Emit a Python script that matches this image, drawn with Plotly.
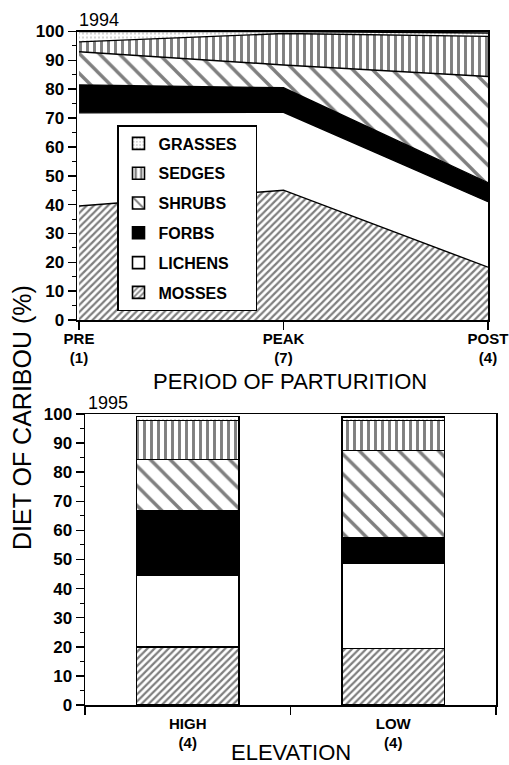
import plotly.graph_objects as go

# ---- data ----
periods = [0, 1, 2]
period_labels = ["PRE<br>(1)", "PEAK<br>(7)", "POST<br>(4)"]
elevations = ["HIGH<br>(4)", "LOW<br>(4)"]

food_names = ["MOSSES", "LICHENS", "FORBS", "SHRUBS", "SEDGES", "GRASSES"]

# 1994 diet (%) by period: PRE, PEAK, POST
mosses_1994 = [39.5, 45.0, 18.3]
lichens_1994 = [32.3, 27.0, 22.7]
forbs_1994 = [9.7, 8.5, 6.6]
shrubs_1994 = [11.5, 7.9, 36.8]
sedges_1994 = [3.4, 10.9, 13.9]
grasses_1994 = [3.6, 0.7, 1.2]

# 1995 diet (%) by elevation: HIGH, LOW
mosses_1995 = [20.0, 19.4]
lichens_1995 = [24.7, 29.3]
forbs_1995 = [22.0, 8.6]
shrubs_1995 = [17.6, 30.2]
sedges_1995 = [13.4, 10.2]
grasses_1995 = [1.5, 1.3]

y_ticks = [0, 10, 20, 30, 40, 50, 60, 70, 80, 90, 100]

series_1994 = [mosses_1994, lichens_1994, forbs_1994, shrubs_1994, sedges_1994, grasses_1994]
series_1995 = [mosses_1995, lichens_1995, forbs_1995, shrubs_1995, sedges_1995, grasses_1995]

# ---- styles ----
FONT = "Liberation Sans, Arial, Helvetica, sans-serif"
styles = {
    "MOSSES": dict(shape="/", size=5, solidity=0.45),
    "LICHENS": None,
    "FORBS": "solid",
    "SHRUBS": dict(shape="\\", size=14, solidity=0.24),
    "SEDGES": dict(shape="|", size=7, solidity=0.42),
    "GRASSES": dict(shape=".", size=4, solidity=0.08),
}

fig = go.Figure()

# top: stacked areas
for name, vals in zip(food_names, series_1994):
    st = styles[name]
    kw = dict(x=periods, y=vals, stackgroup="top", mode="lines",
              line=dict(color="black", width=1.4), showlegend=False,
              xaxis="x", yaxis="y", name=name, hoverinfo="skip")
    if st == "solid":
        kw["fillcolor"] = "black"
    elif st is None:
        kw["fillcolor"] = "white"
    else:
        kw["fillcolor"] = "white"
        kw["fillpattern"] = dict(fgcolor="black", bgcolor="white", **st)
    fig.add_trace(go.Scatter(**kw))

# bottom: stacked bars (also provide legend)
PAD = "\u00a0\u00a0\u00a0"
for rank, (name, vals) in enumerate(zip(food_names, series_1995)):
    st = styles[name]
    marker = dict(line=dict(color="black", width=1.6))
    if st == "solid":
        marker["color"] = "black"
    elif st is None:
        marker["color"] = "white"
    else:
        marker["color"] = "white"
        marker["pattern"] = dict(fgcolor="black", bgcolor="white", **st)
    fig.add_trace(go.Bar(x=elevations, y=vals, name=name + PAD, marker=marker,
                         width=0.5, xaxis="x2", yaxis="y2", hoverinfo="skip",
                         legendgroup=name, legendrank=10 - rank, showlegend=True))

W, H = 509, 765
def px(v):
    return v / W
def py(v):
    return 1 - v / H

axis_common = dict(showline=True, linecolor="black", linewidth=1.5, mirror=True,
                   showgrid=False, zeroline=False, ticks="outside", automargin=False,
                   tickcolor="black", tickwidth=1.5, ticklen=8)

fig.update_layout(
    width=W, height=H,
    margin=dict(l=0, r=0, t=0, b=0),
    paper_bgcolor="white", plot_bgcolor="white",
    barmode="stack", bargap=0.5,
    font=dict(family=FONT, color="black"),
    xaxis=dict(domain=[px(77), px(488)], range=[-0.01, 2], tickvals=periods,
               ticktext=period_labels, anchor="y", ticklabelstandoff=-4,
               tickfont=dict(size=15, family=FONT, weight="bold"), **axis_common),
    yaxis=dict(domain=[py(320), py(31.5)], range=[0, 100], tickvals=y_ticks,
               anchor="x", tickfont=dict(size=17, family=FONT, weight="bold"),
               minor=dict(dtick=5, ticks="outside", ticklen=4, tickcolor="black", tickwidth=1),
               **axis_common),
    xaxis2=dict(domain=[px(85), px(496)], type="category", tickson="boundaries",
                anchor="y2", ticklabelstandoff=4,
                tickfont=dict(size=15, family=FONT, weight="bold"),
                **axis_common),
    yaxis2=dict(domain=[py(705), py(414)], range=[0, 100], tickvals=y_ticks,
                anchor="x2", tickfont=dict(size=17, family=FONT, weight="bold"),
                minor=dict(dtick=5, ticks="outside", ticklen=4, tickcolor="black", tickwidth=1),
                **axis_common),
    legend=dict(x=px(117), y=py(125), xanchor="left", yanchor="top",
                traceorder="grouped", tracegroupgap=6,
                bordercolor="black", borderwidth=1.5, bgcolor="white",
                font=dict(size=16, family=FONT, weight="bold"),
                itemwidth=30),
    annotations=[
        dict(text="1994", x=px(77), y=py(20), xref="paper", yref="paper",
             xanchor="left", yanchor="middle", showarrow=False,
             font=dict(size=18, family=FONT)),
        dict(text="1995", x=px(86), y=py(403), xref="paper", yref="paper",
             xanchor="left", yanchor="middle", showarrow=False,
             font=dict(size=18, family=FONT)),
        dict(text="PERIOD OF PARTURITION", x=px(290), y=py(381), xref="paper", yref="paper",
             xanchor="center", yanchor="middle", showarrow=False,
             font=dict(size=22, family=FONT)),
        dict(text="ELEVATION", x=px(291), y=py(752), xref="paper", yref="paper",
             xanchor="center", yanchor="middle", showarrow=False,
             font=dict(size=22, family=FONT)),
        dict(text="DIET OF CARIBOU (%)", x=px(22), y=py(418), xref="paper", yref="paper",
             xanchor="center", yanchor="middle", showarrow=False, textangle=-90,
             font=dict(size=25, family=FONT)),
    ],
)

fig.write_html("out.html", config={"displayModeBar": False, "staticPlot": True},
               post_script="document.body.style.margin='0px';document.body.style.overflow='hidden';")
